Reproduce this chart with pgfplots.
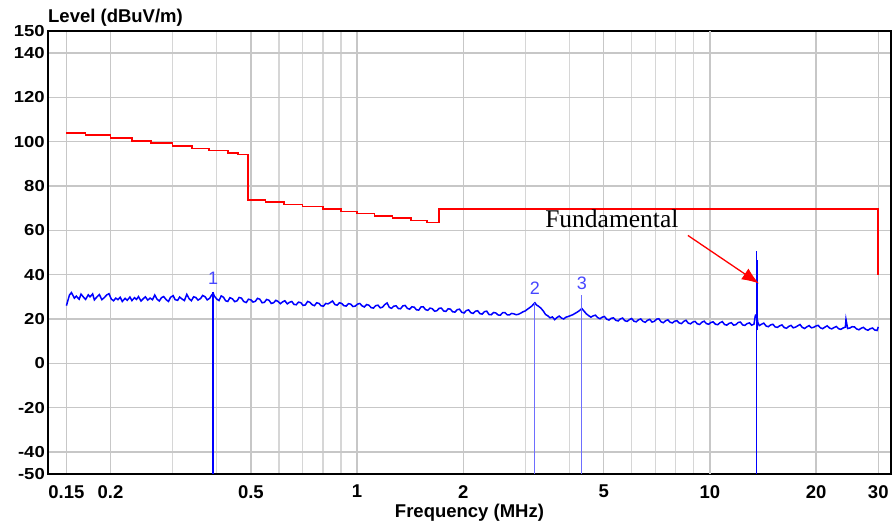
\documentclass[border=0pt]{standalone}
\usepackage{pgfplots}
\usepackage{pgfplotstable}
\pgfplotsset{compat=1.18}
\usepackage{fontspec}
\setmainfont{Liberation Sans}
\newfontfamily\tnr{Liberation Serif}
\usetikzlibrary{arrows.meta}
\definecolor{mkblue}{RGB}{70,70,255}
\definecolor{thinblue}{RGB}{110,110,255}
\newcommand\yl[1]{\scalebox{1}[0.86]{#1}}

% measured level (dBuV/m)
\pgfplotstableread{
f v
0.150 26.0
0.153 30.8
0.155 31.9
0.158 29.4
0.160 30.3
0.163 28.9
0.165 31.2
0.168 29.7
0.170 28.8
0.173 30.9
0.175 30.0
0.178 31.3
0.180 28.6
0.183 29.9
0.186 31.0
0.189 28.7
0.192 29.6
0.195 30.8
0.198 31.4
0.201 29.0
0.204 28.2
0.207 29.4
0.210 28.7
0.213 29.8
0.216 27.9
0.220 29.3
0.223 28.4
0.227 29.9
0.230 28.3
0.234 29.6
0.237 28.8
0.240 30.1
0.244 28.1
0.248 29.2
0.251 30.0
0.255 28.5
0.259 29.4
0.263 28.7
0.267 30.8
0.271 28.9
0.275 28.1
0.279 29.6
0.283 30.1
0.288 28.6
0.292 27.9
0.296 29.8
0.301 30.5
0.305 28.7
0.310 28.4
0.314 29.9
0.319 29.0
0.324 28.3
0.329 31.1
0.334 29.2
0.339 28.2
0.344 30.0
0.349 29.7
0.354 28.5
0.360 29.2
0.365 30.6
0.371 30.0
0.376 28.6
0.382 29.3
0.387 30.8
0.391 31.6
0.394 30.3
0.400 29.0
0.406 28.3
0.412 30.4
0.418 29.8
0.424 28.2
0.430 27.9
0.436 29.6
0.443 29.1
0.450 27.8
0.457 28.2
0.463 29.7
0.470 29.4
0.477 27.9
0.485 27.4
0.492 28.9
0.500 28.6
0.507 27.6
0.515 28.0
0.522 29.3
0.530 28.9
0.538 27.3
0.546 27.5
0.554 28.8
0.563 28.4
0.571 27.0
0.580 27.3
0.588 28.4
0.597 27.9
0.606 26.9
0.615 27.7
0.624 28.2
0.634 26.8
0.643 27.5
0.653 27.9
0.662 26.6
0.672 26.4
0.682 27.6
0.693 27.3
0.703 26.1
0.713 26.3
0.724 27.9
0.735 27.5
0.746 26.4
0.757 26.0
0.768 27.3
0.780 27.0
0.791 25.9
0.803 25.8
0.815 27.0
0.827 26.8
0.839 27.4
0.852 28.1
0.865 26.5
0.878 26.2
0.891 27.3
0.904 27.0
0.917 26.0
0.931 25.8
0.945 26.9
0.959 26.7
0.973 25.6
0.988 25.8
1.003 26.7
1.018 27.0
1.033 25.9
1.048 25.4
1.064 26.5
1.080 26.2
1.096 25.1
1.112 24.9
1.129 26.0
1.146 26.2
1.163 25.0
1.180 25.3
1.198 26.5
1.216 27.2
1.234 25.2
1.252 24.8
1.271 25.8
1.290 25.9
1.309 24.7
1.328 24.6
1.348 25.9
1.368 26.1
1.388 24.8
1.409 24.4
1.430 25.5
1.452 25.3
1.473 24.1
1.495 24.0
1.517 25.4
1.540 25.5
1.563 24.2
1.586 23.9
1.610 24.9
1.634 24.6
1.658 23.5
1.683 23.7
1.708 24.8
1.733 24.9
1.759 23.6
1.785 23.4
1.812 24.6
1.839 24.4
1.866 23.2
1.894 23.1
1.922 24.2
1.951 24.4
1.980 23.0
2.010 22.7
2.040 23.8
2.070 24.1
2.101 22.8
2.132 22.5
2.164 23.5
2.196 23.7
2.229 22.4
2.262 22.2
2.296 23.3
2.330 23.5
2.365 22.0
2.400 21.9
2.436 22.9
2.472 22.7
2.509 21.8
2.546 21.7
2.584 22.8
2.622 22.9
2.661 21.9
2.701 21.8
2.741 22.5
2.782 22.3
2.823 21.9
2.865 22.1
2.908 22.6
2.951 23.2
2.995 23.6
3.040 24.4
3.085 25.1
3.131 25.9
3.160 26.6
3.190 27.3
3.225 26.3
3.270 25.7
3.322 24.8
3.370 23.6
3.421 22.0
3.472 21.4
3.524 20.5
3.577 20.9
3.630 19.7
3.684 20.6
3.739 21.3
3.795 20.4
3.851 20.0
3.908 20.8
3.966 21.1
4.025 21.5
4.085 21.9
4.146 22.5
4.208 23.1
4.270 23.8
4.334 24.7
4.398 23.5
4.464 22.3
4.531 21.5
4.598 20.8
4.667 21.4
4.736 21.7
4.806 20.6
4.878 20.1
4.951 20.8
5.024 21.1
5.099 19.9
5.175 19.5
5.252 20.3
5.330 20.5
5.409 19.4
5.490 19.1
5.572 20.0
5.655 20.4
5.739 19.2
5.825 18.9
5.912 19.7
6.000 20.2
6.090 19.0
6.180 18.7
6.272 19.6
6.365 20.0
6.460 18.9
6.556 18.5
6.654 19.4
6.753 19.8
6.853 18.6
6.955 18.9
7.059 19.9
7.164 20.1
7.271 18.7
7.379 18.3
7.489 19.2
7.600 19.6
7.713 18.5
7.828 18.2
7.945 19.0
8.063 19.2
8.183 18.2
8.305 17.9
8.429 18.9
8.554 19.4
8.681 18.1
8.811 17.8
8.942 18.6
9.075 18.9
9.210 17.8
9.347 17.5
9.486 18.5
9.628 19.0
9.771 17.9
9.917 17.6
10.06 18.4
10.21 18.7
10.37 17.6
10.52 17.4
10.68 18.3
10.84 18.8
11.00 17.5
11.16 17.2
11.33 18.0
11.50 18.3
11.67 17.2
11.84 17.4
12.02 18.4
12.20 18.6
12.38 17.3
12.56 17.1
12.75 17.9
12.94 18.2
13.13 17.2
13.33 17.6
13.45 21.6
13.56 22.0
13.67 18.4
13.80 17.0
14.00 17.6
14.21 18.1
14.43 16.8
14.64 16.5
14.86 17.3
15.08 17.6
15.31 16.4
15.53 16.2
15.77 16.9
16.00 17.3
16.24 16.1
16.48 15.8
16.72 16.6
16.97 17.1
17.23 16.0
17.48 16.3
17.74 16.9
18.00 17.5
18.27 16.2
18.55 15.7
18.82 16.4
19.10 17.0
19.39 16.0
19.67 16.2
19.97 16.8
20.26 17.1
20.56 16.0
20.87 15.6
21.18 16.3
21.50 16.9
21.82 15.9
22.14 15.5
22.47 16.1
22.81 16.6
23.15 15.6
23.49 15.3
23.84 15.9
24.20 16.3
24.30 19.8
24.56 15.7
24.92 15.9
25.29 16.5
25.67 16.4
26.05 15.5
26.44 15.1
26.83 15.8
27.23 16.2
27.64 15.3
28.05 14.9
28.47 15.6
28.89 15.9
29.32 15.0
29.76 14.8
30.00 16.4
}\trace

\begin{document}
\begin{tikzpicture}
\begin{axis}[
    scale only axis,
    width=843pt,
    height=443pt,
    xmode=log,
    xmin=0.133, xmax=32.6,
    ymin=-50, ymax=150,
    xtick={0.15,0.2,0.5,1,2,5,10,20,30},
    xticklabels={0.15,0.2,0.5,1,2,5,10,20,30},
    minor xtick={0.3,0.4,0.6,0.7,0.8,0.9,3,4,6,7,8,9},
    ytick={-50,-40,-20,0,20,40,60,80,100,120,140,150},
    yticklabels={\yl{-50},\yl{-40},\yl{-20},\yl{0},\yl{20},\yl{40},\yl{60},\yl{80},\yl{100},\yl{120},\yl{140},\yl{150}},
    extra x ticks={10},
    extra x tick labels={},
    extra x tick style={grid style={black!28, line width=2.6pt}},
    grid=both,
    major grid style={black!22, line width=1.4pt},
    minor grid style={black!16, line width=1.4pt},
    major tick length=0pt,
    minor tick length=0pt,
    axis line style={black, line width=1.3pt},
    xticklabel style={font=\fontsize{18.5}{20}\selectfont\bfseries, anchor=north, inner sep=0pt, yshift=-11pt},
    yticklabel style={font=\fontsize{18.5}{20}\selectfont\bfseries, anchor=east, inner sep=0pt, xshift=-3pt},
    xlabel={Frequency (MHz)},
    xlabel style={font=\fontsize{18.5}{20}\selectfont\bfseries, at={(axis description cs:0.5,0)}, anchor=base, yshift=-44pt},
    ylabel={Level (dBuV/m)},
    ylabel style={font=\fontsize{18.5}{20}\selectfont\bfseries, rotate=-90, at={(axis description cs:0,1)}, anchor=base west, inner sep=0pt, yshift=8pt},
]
% limit line
\addplot[red, line width=1.7pt, const plot] coordinates {
    (0.15,104.1) (0.17,103.0) (0.20,101.6) (0.23,100.4) (0.26,99.3)
    (0.30,98.1) (0.34,97.0) (0.38,96.0) (0.43,94.9) (0.46,94.3)
    (0.49,73.8) (0.55,72.8) (0.62,71.7) (0.70,70.7) (0.80,69.5)
    (0.90,68.5) (1.00,67.6) (1.12,66.6) (1.26,65.6) (1.42,64.5)
    (1.58,63.6) (1.705,69.5) (30,40)
};
% trace
\addplot[blue, line width=1.5pt] table[x=f, y=v] {\trace};
% marker lines
\addplot[blue, line width=1.6pt] coordinates {(0.391,-50) (0.391,32)};
\addplot[thinblue, line width=0.9pt] coordinates {(3.19,-50) (3.19,27.2)};
\addplot[thinblue, line width=0.9pt] coordinates {(4.334,-50) (4.334,30.6)};
% fundamental
\addplot[blue, line width=1.6pt] coordinates {(13.56,-50) (13.56,50.5)};
\addplot[blue, line width=1.8pt] coordinates {(13.64,15) (13.64,46.8)};
\node[mkblue, font=\fontsize{18}{19}\selectfont] at (axis cs:0.391,38.3) {1};
\node[mkblue, font=\fontsize{18}{19}\selectfont] at (axis cs:3.19,33.8) {2};
\node[mkblue, font=\fontsize{18}{19}\selectfont] at (axis cs:4.334,36.0) {3};
\node[anchor=base west, inner sep=0pt, font=\tnr\fontsize{25.5}{27}\selectfont] at (axis cs:3.41,61.3) {Fundamental};
\draw[red, line width=1.3pt, -{Latex[length=17pt,width=13pt]}] (axis cs:8.66,57.7) -- (axis cs:13.77,36.0);
\coordinate (sw) at (rel axis cs:0,0);
\coordinate (ne) at (rel axis cs:1,1);
\end{axis}
\path ([shift={(-48pt,-55pt)}]sw) rectangle ([shift={(1pt,31pt)}]ne);
\end{tikzpicture}
\end{document}
